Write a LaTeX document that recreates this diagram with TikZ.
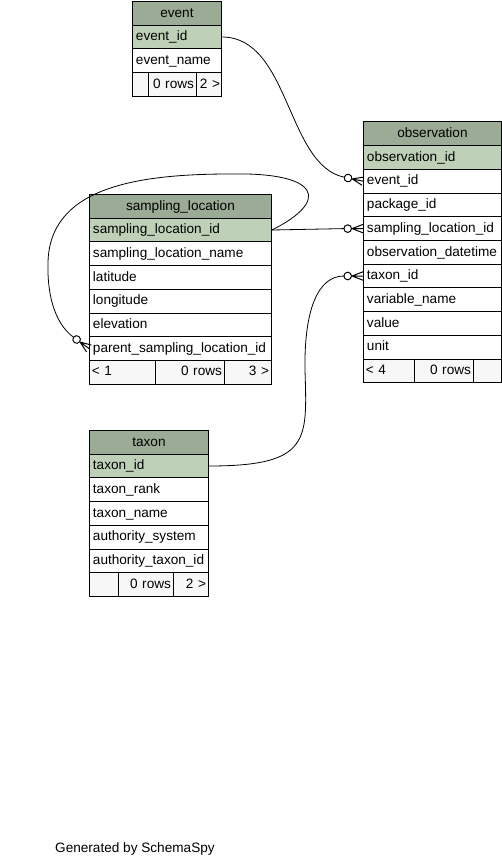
\documentclass[tikz,border=0pt]{standalone}
\usepackage{fontspec}
\setmainfont{Liberation Sans}
\definecolor{hdrc}{HTML}{9BAB96}
\definecolor{pkc}{HTML}{BED1B8}
\definecolor{ftrc}{HTML}{F7F7F7}
\tikzset{
  cell/.style={draw=black, line width=0.9pt, anchor=north west, minimum height=23.7pt,
    inner xsep=3.5pt, inner ysep=0pt, text height=10pt, text depth=2.5pt,
    font=\fontsize{13.6}{16}\selectfont, align=left, fill=white},
  hdrcell/.style={cell, fill=hdrc, align=center},
  pkcell/.style={cell, fill=pkc},
  ftrcell/.style={cell, fill=ftrc, inner xsep=2.5pt, align=right},
  ftrleft/.style={ftrcell, align=left},
  conn/.style={line width=0.8pt},
  crowline/.style={line width=1pt},
}
\newcommand\crowfoot[3]{%
  \begin{scope}[shift={(#1)}, rotate=#2]
    \draw[crowline] (-11,0) -- (0,0) (-11,0) -- (0,4.2) (-11,0) -- (0,-4.2);
    \draw[crowline, fill=white] (-15.3,0) circle (3.8pt);
    \coordinate (#3) at (-19.1,0);
  \end{scope}}
\begin{document}
\begin{tikzpicture}[x=1pt,y=-1pt]
\useasboundingbox (0,0) rectangle (502,856);
% event
\node[hdrcell, text width=82pt] (ev) at (132,1) {event};
\node[pkcell, text width=82pt] (ev-id) at (132,24.7) {event\_id};
\node[cell, text width=82pt] (ev-name) at (132,48.4) {event\_name};
\node[ftrcell, text width=11pt] (ev-f1) at (132,72.1) {};
\node[ftrcell, text width=43pt] (ev-f2) at (148,72.1) {0 rows};
\node[ftrcell, inner xsep=1.5pt, text width=22pt] (ev-f3) at (196,72.1) {2\nobreakspace>};
% observation
\node[hdrcell, text width=131pt] (obs) at (363,121.5) {observation};
\node[pkcell, text width=131pt] (obs-id) at (363,145.2) {observation\_id};
\node[cell, text width=131pt] (obs-event) at (363,168.9) {event\_id};
\node[cell, text width=131pt] (obs-pkg) at (363,192.6) {package\_id};
\node[cell, text width=131pt] (obs-sl) at (363,216.3) {sampling\_location\_id};
\node[cell, text width=131pt] (obs-dt) at (363,240.0) {observation\_datetime};
\node[cell, text width=131pt] (obs-taxon) at (363,263.7) {taxon\_id};
\node[cell, text width=131pt] (obs-var) at (363,287.4) {variable\_name};
\node[cell, text width=131pt] (obs-val) at (363,311.1) {value};
\node[cell, text width=131pt] (obs-unit) at (363,334.8) {unit};
\node[ftrleft, text width=46pt] (obs-f1) at (363,358.5) {< 4};
\node[ftrcell, text width=54pt] (obs-f2) at (414,358.5) {0 rows};
\node[ftrcell, text width=23pt] (obs-f3) at (473,358.5) {};
% sampling_location
\node[hdrcell, text width=175pt] (sl) at (89,194) {sampling\_location};
\node[pkcell, text width=175pt] (sl-id) at (89,217.7) {sampling\_location\_id};
\node[cell, text width=175pt] (sl-name) at (89,241.4) {sampling\_location\_name};
\node[cell, text width=175pt] (sl-lat) at (89,265.1) {latitude};
\node[cell, text width=175pt] (sl-lon) at (89,288.8) {longitude};
\node[cell, text width=175pt] (sl-elev) at (89,312.5) {elevation};
\node[cell, text width=175pt] (sl-parent) at (89,336.2) {parent\_sampling\_location\_id};
\node[ftrleft, text width=61pt] (sl-f1) at (89,359.9) {< 1};
\node[ftrcell, text width=64pt] (sl-f2) at (155,359.9) {0 rows};
\node[ftrcell, text width=42pt] (sl-f3) at (224,359.9) {3 >};
% taxon
\node[hdrcell, text width=112pt] (tx) at (89,430) {taxon};
\node[pkcell, text width=112pt] (tx-id) at (89,453.7) {taxon\_id};
\node[cell, text width=112pt] (tx-rank) at (89,477.4) {taxon\_rank};
\node[cell, text width=112pt] (tx-name) at (89,501.1) {taxon\_name};
\node[cell, text width=112pt] (tx-sys) at (89,524.8) {authority\_system};
\node[cell, text width=112pt] (tx-atid) at (89,548.5) {authority\_taxon\_id};
\node[ftrcell, text width=24pt] (tx-f1) at (89,572.2) {};
\node[ftrcell, text width=50pt] (tx-f2) at (118,572.2) {0 rows};
\node[ftrcell, text width=30pt] (tx-f3) at (173,572.2) {2 >};
% crow's feet
\crowfoot{obs-event.west}{-12}{c-ev}
\crowfoot{obs-sl.west}{0}{c-sl}
\crowfoot{obs-taxon.west}{0}{c-tx}
\crowfoot{sl-parent.west}{-36}{c-self}
% connectors
\draw[conn] (ev-id.east) .. controls +(68,0) and +(-58,-12) .. (c-ev);
\draw[conn] (sl-id.east) -- (c-sl);
\draw[conn] (tx-id.east) .. controls +(102,0) and (307,440) .. (305,370)
  .. controls (304,310) and +(-26,0) .. (c-tx);
\draw[conn] (sl-id.east) .. controls +(59,-29.5) and (320,172) .. (230,174)
  .. controls (130,174) and (50,190) .. (48,262)
  .. controls (47,292) and +(-20,-14.7) .. (c-self);
% footer
\node[font=\fontsize{13.6}{16}\selectfont, anchor=base west, inner sep=0pt] (gen) at (55,852) {Generated by SchemaSpy};
\end{tikzpicture}
\end{document}
